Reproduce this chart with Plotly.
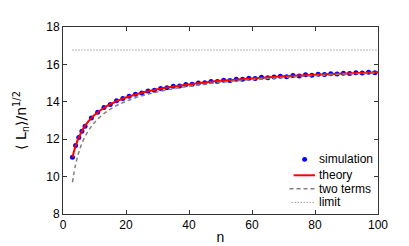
import plotly.graph_objects as go

# simulation points
sim_n = [3, 4, 5, 6, 7, 9, 11, 13, 15, 17, 19, 21, 23, 25, 27, 29, 31, 33, 35, 37, 39,
         41, 43, 45, 47, 49, 51, 53, 55, 57, 59, 61, 63, 65, 67, 69, 71, 73, 75, 77, 79,
         81, 83, 85, 87, 89, 91, 93, 95, 97, 99]
sim_v = [11.03, 11.66, 12.09, 12.43, 12.69, 13.14, 13.44, 13.69, 13.86, 14.05, 14.17, 14.30,
         14.41, 14.47, 14.58, 14.62, 14.71, 14.75, 14.83, 14.85, 14.93, 14.94, 15.01, 15.02,
         15.09, 15.08, 15.15, 15.14, 15.21, 15.20, 15.26, 15.25, 15.31, 15.29, 15.33, 15.37,
         15.34, 15.40, 15.38, 15.44, 15.42, 15.47, 15.46, 15.50, 15.48, 15.53, 15.52, 15.55,
         15.54, 15.58, 15.56]

# theory curve
th_n = [3, 4, 5, 6, 7, 8, 9, 10, 12, 14, 16, 18, 20, 25, 30, 35, 40, 45, 50, 60, 70, 80, 90, 100]
th_v = [11.03, 11.64, 12.09, 12.43, 12.71, 12.94, 13.13, 13.29, 13.56, 13.78, 13.95, 14.10,
        14.23, 14.48, 14.67, 14.81, 14.93, 15.03, 15.12, 15.25, 15.36, 15.45, 15.52, 15.58]

# two-term approximation
tt_v = [9.69, 10.64, 11.29, 11.77, 12.14, 12.44, 12.68, 12.89, 13.23, 13.49, 13.71, 13.88,
        14.03, 14.32, 14.53, 14.70, 14.83, 14.94, 15.04, 15.19, 15.30, 15.40, 15.48, 15.54]

# limit
lim_n = [3, 100]
lim_v = [16.77, 16.77]

x_ticks = [0, 20, 40, 60, 80, 100]
y_ticks = [8, 10, 12, 14, 16, 18]

legend_labels = ["simulation", "theory", "two terms", "limit"]

BLUE, RED, GRAY, DGRAY = "#0000FF", "#FF0000", "#808080", "#707070"
TT_DASH, LIM_DASH = "4px,3px", "1px,2px"

fig = go.Figure()
fig.add_trace(go.Scatter(x=sim_n, y=sim_v, mode="markers", name=legend_labels[0],
                         marker=dict(color=BLUE, size=5)))
fig.add_trace(go.Scatter(x=th_n, y=th_v, mode="lines", name=legend_labels[1],
                         line=dict(color=RED, width=2, shape="spline")))
fig.add_trace(go.Scatter(x=th_n, y=tt_v, mode="lines", name=legend_labels[2],
                         line=dict(color=GRAY, width=1.5, dash=TT_DASH, shape="spline")))
fig.add_trace(go.Scatter(x=lim_n, y=lim_v, mode="lines", name=legend_labels[3],
                         line=dict(color=DGRAY, width=1, dash=LIM_DASH)))

# compact legend (MATLAB style) drawn in paper coordinates
rows_y = [0.292, 0.207, 0.135, 0.062]
text_x = 0.806
annotations = []
for lab, ry in zip(legend_labels, rows_y):
    annotations.append(dict(x=text_x, y=ry, xref="paper", yref="paper", text=lab,
                            showarrow=False, xanchor="left", yanchor="middle",
                            font=dict(family="Liberation Sans, Arial", size=12, color="black")))
shapes = [
    dict(type="circle", xref="paper", yref="paper", x0=0.767 - 0.0079, x1=0.767 + 0.0079,
         y0=rows_y[0] - 0.0128, y1=rows_y[0] + 0.0128, fillcolor=BLUE, line=dict(width=0)),
    dict(type="line", xref="paper", yref="paper", x0=0.732, x1=0.800, y0=rows_y[1], y1=rows_y[1],
         line=dict(color=RED, width=2)),
    dict(type="line", xref="paper", yref="paper", x0=0.719, x1=0.800, y0=rows_y[2], y1=rows_y[2],
         line=dict(color=GRAY, width=1.5, dash=TT_DASH)),
    dict(type="line", xref="paper", yref="paper", x0=0.726, x1=0.800, y0=rows_y[3], y1=rows_y[3],
         line=dict(color=DGRAY, width=1, dash=LIM_DASH)),
]

axis_common = dict(showgrid=False, zeroline=False, showline=True, linecolor="#333333",
                   linewidth=1, mirror="allticks", ticks="inside", ticklen=4,
                   tickcolor="#333333",
                   tickfont=dict(family="Liberation Sans, Arial", size=12, color="black"))

fig.update_layout(
    width=409, height=246,
    margin=dict(l=53, r=39, t=18, b=33),
    paper_bgcolor="white", plot_bgcolor="white",
    font=dict(family="Liberation Sans, Arial", size=12, color="black"),
    xaxis=dict(range=[0, 100], tickvals=x_ticks,
               title=dict(text="n", standoff=0, font=dict(size=14)), **axis_common),
    yaxis=dict(range=[8, 18], tickvals=y_ticks,
               title=dict(text="⟨ L<sub>n</sub>⟩/n<sup>1/2</sup>", standoff=16,
                          font=dict(family="DejaVu Sans, Liberation Sans", size=14)),
               **axis_common),
    showlegend=False,
    annotations=annotations,
    shapes=shapes,
)

fig.write_html("out.html")
